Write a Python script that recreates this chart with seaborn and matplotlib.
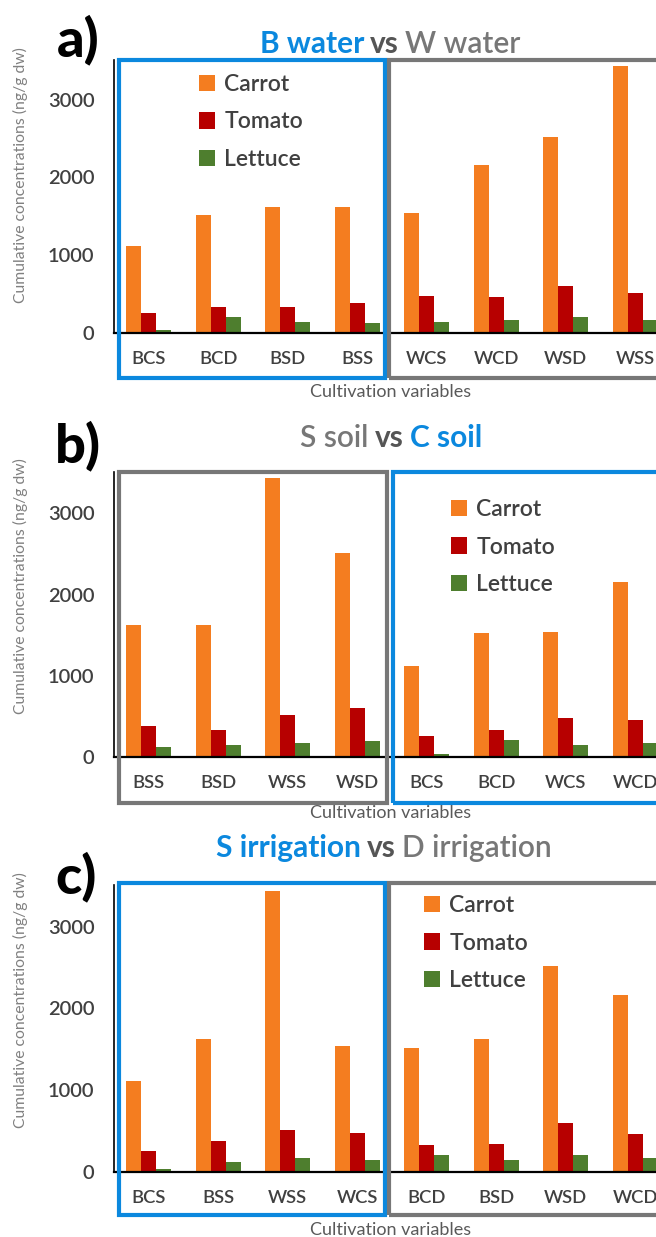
import matplotlib
matplotlib.use("Agg")
import matplotlib.pyplot as plt
import matplotlib.patches as mpatches
import seaborn as sns
import pandas as pd

# values (ng/g dw)
samples = ["BCS", "BCD", "BSD", "BSS", "WCS", "WCD", "WSD", "WSS"]
carrot = [1115, 1522, 1624, 1623, 1537, 2160, 2515, 3437]
tomato = [258, 328, 338, 380, 480, 460, 604, 514]
lettuce = [42, 205, 147, 125, 146, 167, 202, 172]
crops = ["Carrot", "Tomato", "Lettuce"]

order_a = ["BCS", "BCD", "BSD", "BSS", "WCS", "WCD", "WSD", "WSS"]
order_b = ["BSS", "BSD", "WSS", "WSD", "BCS", "BCD", "WCS", "WCD"]
order_c = ["BCS", "BSS", "WSS", "WCS", "BCD", "BSD", "WSD", "WCD"]

df = pd.DataFrame({
    "sample": samples * 3,
    "crop": ["Carrot"] * 8 + ["Tomato"] * 8 + ["Lettuce"] * 8,
    "value": carrot + tomato + lettuce,
})

ORANGE = "#F47D20"
RED = "#B70000"
GREEN = "#4E7E2E"
BLUE = "#0B88DE"
GRAY = "#777777"
DARK = "#404040"
palette = {"Carrot": ORANGE, "Tomato": RED, "Lettuce": GREEN}

sns.set_style("white")
plt.rcParams["font.family"] = ["Lato", "DejaVu Sans"]

W, H = 656, 1237
fig = plt.figure(figsize=(W / 100, H / 100), dpi=100)


def fx(px):
    return px / W


def fy(py):
    return 1 - py / H


panels = [
    dict(order=order_a, ax=(114, 60, 670, 333), letter="a)", letter_xy=(78, 40),
         title=[("B water", BLUE, "bold"), ("vs", "#555555", "bold"), ("W water", "#777777", "semibold")],
         title_xy=(390, 44),
         boxes=[(119, 60, 385, 378, BLUE), (389, 60, 670, 378, GRAY)],
         legend_xy=(199, 74), ylabel_y=0.58, xlabel_y=392),
    dict(order=order_b, ax=(114, 472, 670, 757), letter="b)", letter_xy=(78, 446),
         title=[("S soil", "#777777", "semibold"), ("vs", "#555555", "bold"), ("C soil", BLUE, "bold")],
         title_xy=(391, 438),
         boxes=[(119, 472, 387, 803, GRAY), (393, 472, 670, 803, BLUE)],
         legend_xy=(451, 499), ylabel_y=0.60, xlabel_y=813),
    dict(order=order_c, ax=(114, 885, 670, 1172), letter="c)", letter_xy=(76, 877),
         title=[("S irrigation", BLUE, "bold"), ("vs", "#555555", "bold"), ("D irrigation", "#777777", "semibold")],
         title_xy=(384, 848),
         boxes=[(119, 883, 385, 1215, BLUE), (389, 883, 670, 1215, GRAY)],
         legend_xy=(424, 895), ylabel_y=0.60, xlabel_y=1230),
]

renderer = fig.canvas.get_renderer()

for p in panels:
    x0, y0, x1, y1 = p["ax"]
    ax = fig.add_axes([fx(x0), fy(y1), (x1 - x0) / W, (y1 - y0) / H])
    ax.patch.set_alpha(0)
    sns.barplot(data=df, x="sample", y="value", hue="crop", order=p["order"],
                hue_order=crops, palette=palette, width=0.65, linewidth=0,
                saturation=1, ax=ax)
    ax.set_xlim(-0.5, 7.5)
    ax.set_ylim(0, 3510)
    ax.set_yticks([0, 1000, 2000, 3000])
    ax.tick_params(axis="x", length=0, labelsize=13.2, labelcolor=DARK, pad=13)
    ax.tick_params(axis="y", length=0, labelsize=14.5, labelcolor=DARK, pad=14)
    for lab in ax.get_xticklabels() + ax.get_yticklabels():
        lab.set_fontweight("semibold")
    sns.despine(ax=ax)
    ax.spines["left"].set_color("black")
    ax.spines["left"].set_linewidth(1.2)
    ax.spines["bottom"].set_color("black")
    ax.spines["bottom"].set_linewidth(1.6)

    ax.set_ylabel("Cumulative concentrations (ng/g dw)", fontsize=11.3, color="#808080")
    ax.yaxis.set_label_coords((28 - x0) / (x1 - x0), p["ylabel_y"])
    ax.set_xlabel("Cultivation variables", fontsize=13, color="#595959")
    ax.xaxis.set_label_coords((391 - x0) / (x1 - x0), (y1 - p["xlabel_y"]) / (y1 - y0))
    ax.xaxis.label.set_va("center")

    handles, labels = ax.get_legend_handles_labels()
    leg = ax.legend(handles, labels, loc="upper left",
                    bbox_to_anchor=(fx(p["legend_xy"][0]), fy(p["legend_xy"][1])),
                    bbox_transform=fig.transFigure, frameon=False, borderpad=0,
                    borderaxespad=0, fontsize=16.5, labelcolor=DARK,
                    handlelength=0.7, handleheight=0.7, handletextpad=0.4,
                    labelspacing=0.72)
    for t in leg.get_texts():
        t.set_fontweight("semibold")

    for bx0, by0, bx1, by1, c in p["boxes"]:
        rect = mpatches.Rectangle((fx(bx0), fy(by1)), (bx1 - bx0) / W, (by1 - by0) / H,
                                  transform=fig.transFigure, fill=False, ec=c,
                                  lw=3, zorder=5, clip_on=False)
        fig.add_artist(rect)

    fig.text(fx(p["letter_xy"][0]), fy(p["letter_xy"][1]), p["letter"], fontsize=39,
             fontweight="black", color="black", ha="center", va="center")

    # multi-coloured title
    pieces = []
    for s, c, w in p["title"]:
        pieces.append(fig.text(0, fy(p["title_xy"][1]), s, color=c, fontweight=w,
                               fontsize=21.5, ha="left", va="center"))
    gap = 6
    widths = [t.get_window_extent(renderer).width for t in pieces]
    x = p["title_xy"][0] - (sum(widths) + gap * (len(widths) - 1)) / 2
    for t, w in zip(pieces, widths):
        t.set_x(fx(x))
        x += w + gap

fig.savefig("out.png", dpi=100)
